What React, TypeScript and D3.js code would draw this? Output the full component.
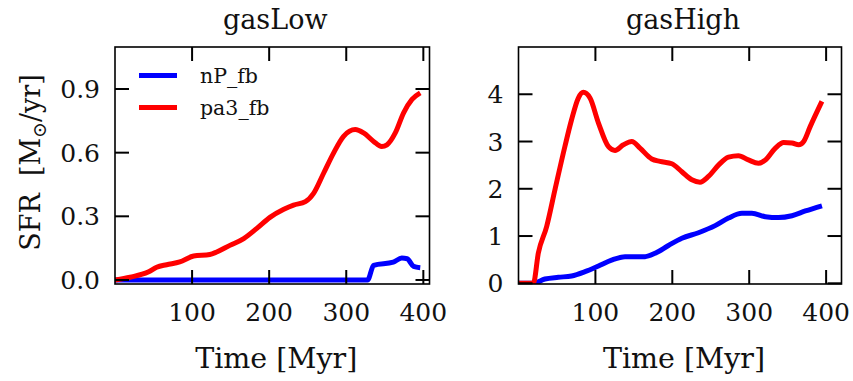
import React from "react";
import * as d3 from "d3";

// ---- data ----
const lowRedTime = [0, 19.5, 43, 54, 67, 84, 102, 123, 132, 149, 167, 184, 201, 219, 231.6, 247, 257.6, 270.6, 283.5, 296.5, 311.7, 322.5, 335.5, 346, 352.8, 363.6, 374.4, 385.3, 396];
const lowRedSFR = [0, 0.013, 0.037, 0.06, 0.072, 0.085, 0.113, 0.12, 0.132, 0.163, 0.195, 0.243, 0.295, 0.333, 0.353, 0.369, 0.408, 0.503, 0.598, 0.677, 0.709, 0.693, 0.653, 0.629, 0.637, 0.693, 0.788, 0.851, 0.882];
const lowBlueTime = [0, 327.7, 335.5, 361, 372, 379, 387.4, 396];
const lowBlueSFR = [0, 0, 0.069, 0.084, 0.103, 0.1, 0.064, 0.058];

const highRedTime = [0, 19.3, 25.8, 36.6, 47.4, 60.4, 69, 77.8, 84.3, 93, 104, 117, 125.5, 136.4, 147.3, 158, 173.3, 184, 199.4, 212.4, 225.4, 236, 247, 260, 273, 286, 299, 312, 321, 334, 344.8, 355.6, 364.3, 370.8, 379.4, 394.6];
const highRedSFR = [0, 0, 0.64, 1.2, 1.98, 2.9, 3.46, 3.92, 4.04, 3.92, 3.39, 2.89, 2.81, 2.93, 3.0, 2.86, 2.63, 2.58, 2.53, 2.36, 2.19, 2.14, 2.26, 2.5, 2.67, 2.7, 2.61, 2.54, 2.61, 2.86, 2.98, 2.97, 2.93, 3.0, 3.32, 3.85];
const highBlueTime = [0, 19.3, 34.4, 51.8, 69, 86.5, 104, 121, 138.5, 164.6, 177.6, 195, 212.4, 234, 255.7, 273, 290.5, 303.5, 321, 338, 355.6, 373, 394.6];
const highBlueSFR = [0, 0, 0.09, 0.127, 0.155, 0.246, 0.366, 0.49, 0.564, 0.564, 0.635, 0.8, 0.953, 1.07, 1.22, 1.38, 1.48, 1.48, 1.41, 1.39, 1.43, 1.53, 1.64];

const xTicks = [100, 200, 300, 400];
const lowYTicks = [0, 0.3, 0.6, 0.9];
const highYTicks = [0, 1, 2, 3, 4];
const seriesNames = ["nP_fb", "pa3_fb"];
const panelTitles = ["gasLow", "gasHigh"];

const FONT = "'DejaVu Serif', serif";
const BLUE = "#0000ff";
const RED = "#ff0000";

type Panel = {
  title: string;
  left: number;
  right: number;
  xMax: number;
  yDomain: [number, number];
  yTicks: number[];
  yFmt: (v: number) => string;
  blue: [number[], number[]];
  red: [number[], number[]];
  legend: boolean;
  yLabel: boolean;
};

const TOP = 47;
const BOTTOM = 284;
const TICK = 14;

function PanelView({ p, id }: { p: Panel; id: string }) {
  const x = d3.scaleLinear().domain([0, p.xMax]).range([p.left, p.right]);
  const y = d3.scaleLinear().domain(p.yDomain).range([BOTTOM, TOP]);
  const line = d3
    .line<[number, number]>()
    .x((d) => x(d[0]))
    .y((d) => y(d[1]))
    .curve(d3.curveMonotoneX);
  const pts = (s: [number[], number[]]) => s[0].map((t, i) => [t, s[1][i]] as [number, number]);
  const cx = (p.left + p.right) / 2;
  return (
    <g>
      <defs>
        <clipPath id={id}>
          <rect x={p.left} y={TOP} width={p.right - p.left} height={BOTTOM - TOP} />
        </clipPath>
      </defs>
      <text x={cx + 3} y={29} textAnchor="middle" fontFamily={FONT} fontSize={27} fill="#111">
        {p.title}
      </text>
      <g clipPath={`url(#${id})`}>
        <path d={line(pts(p.blue)) || ""} fill="none" stroke={BLUE} strokeWidth={5} strokeLinejoin="round" />
        <path d={line(pts(p.red)) || ""} fill="none" stroke={RED} strokeWidth={5} strokeLinejoin="round" />
      </g>
      <rect x={p.left} y={TOP} width={p.right - p.left} height={BOTTOM - TOP} fill="none" stroke="#000" strokeWidth={1.6} />
      {xTicks.map((t) => (
        <g key={"x" + t}>
          <line x1={x(t)} x2={x(t)} y1={BOTTOM} y2={BOTTOM - TICK} stroke="#000" strokeWidth={2} />
          <line x1={x(t)} x2={x(t)} y1={TOP} y2={TOP + TICK} stroke="#000" strokeWidth={2} />
          <text x={x(t)} y={321} textAnchor="middle" fontFamily={FONT} fontSize={25} fill="#111">
            {t}
          </text>
        </g>
      ))}
      {p.yTicks.map((t) => (
        <g key={"y" + t}>
          <line x1={p.left} x2={p.left + TICK} y1={y(t)} y2={y(t)} stroke="#000" strokeWidth={2} />
          <line x1={p.right} x2={p.right - TICK} y1={y(t)} y2={y(t)} stroke="#000" strokeWidth={2} />
          <text x={p.left - 15} y={y(t)} dy="0.36em" textAnchor="end" fontFamily={FONT} fontSize={25} fill="#111">
            {p.yFmt(t)}
          </text>
        </g>
      ))}
      <text x={cx + 4} y={368} textAnchor="middle" fontFamily={FONT} fontSize={28.5} fill="#111">
        Time [Myr]
      </text>
      {p.yLabel && (
        <text
          transform={`translate(40,${(TOP + BOTTOM) / 2 - 3}) rotate(-90)`}
          textAnchor="middle"
          fontFamily={FONT}
          fontSize={27}
          fill="#111"
        >
          SFR{"\u00a0\u00a0"}[M
          <tspan fontSize={19} dy={6}>{"\u2299"}</tspan>
          <tspan dy={-6}>/yr]</tspan>
        </text>
      )}
      {p.legend && (
        <g>
          {seriesNames.map((n, i) => (
            <g key={n}>
              <line x1={139} x2={177} y1={75.5 + i * 32} y2={75.5 + i * 32} stroke={i === 0 ? BLUE : RED} strokeWidth={5} />
              <text x={200} y={83 + i * 32} fontFamily={FONT} fontSize={20.5} fill="#111">
                {n}
              </text>
            </g>
          ))}
        </g>
      )}
    </g>
  );
}

const panels: Panel[] = [
  {
    title: panelTitles[0],
    left: 115,
    right: 429.5,
    xMax: 408,
    yDomain: [-0.019, 1.098],
    yTicks: lowYTicks,
    yFmt: (v) => v.toFixed(1),
    blue: [lowBlueTime, lowBlueSFR],
    red: [lowRedTime, lowRedSFR],
    legend: true,
    yLabel: true,
  },
  {
    title: panelTitles[1],
    left: 518.5,
    right: 841.5,
    xMax: 420,
    yDomain: [-0.015, 5],
    yTicks: highYTicks,
    yFmt: (v) => String(v),
    blue: [highBlueTime, highBlueSFR],
    red: [highRedTime, highRedSFR],
    legend: false,
    yLabel: false,
  },
];

export default function App() {
  return (
    <svg
      width={853}
      height={381}
      viewBox="0 0 853 381"
      style={{ position: "absolute", left: 0, top: 0, background: "#fff" }}
    >
      <rect width={853} height={381} fill="#fff" />
      {panels.map((p, i) => (
        <PanelView key={i} p={p} id={"clip" + i} />
      ))}
    </svg>
  );
}
